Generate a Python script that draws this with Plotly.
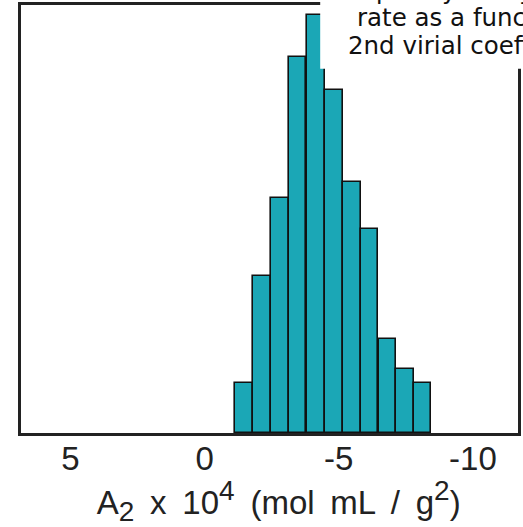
import plotly.graph_objects as go

# ---- data ----
bin_centers = [-1.46, -2.135, -2.80, -3.465, -4.14, -4.815, -5.48, -6.145, -6.815, -7.48, -8.12]
bin_width = 0.665
counts = [9.6, 30.2, 45.3, 72.4, 80.6, 66.1, 48.3, 39.3, 18.2, 12.4, 9.7]
tick_vals = [5, 0, -5, -10]
tick_text = ["5", "0", "-5", "-10"]
title_lines = ["Frequency of crystallization", "rate as a function of", "2nd virial coefficient"]

W, H = 523, 527
L, R, T, B = 21, 2, 4, 94
pw, ph = W - L - R, H - T - B

def px_x(x):
    return (x - L) / pw

def px_y(y):
    return (H - B - y) / ph

fig = go.Figure()
fig.add_trace(go.Bar(
    x=bin_centers, y=counts, width=[bin_width] * len(counts),
    marker=dict(color="#1ba7b6", line=dict(color="#111111", width=1.6)),
    showlegend=False,
))

sp = "&#8201;"
sub = '<sub><span style="font-size:28px">%s</span></sub>'
sup = '<sup><span style="font-size:28px">%s</span></sup>'
xtitle = ("&nbsp;&nbsp;A" + sub % "2" + " " + sp + "x " + sp + "10" + sup % "4" + " " + sp + "(mol " + sp
          + "mL " + sp + "/ " + sp + "g" + sup % "2" + ")")

fig.update_layout(
    width=W, height=H,
    margin=dict(l=L, r=R, t=T, b=B),
    paper_bgcolor="white", plot_bgcolor="white",
    bargap=0,
    xaxis=dict(
        range=[6.84, -11.68], tickmode="array", tickvals=tick_vals, ticktext=tick_text,
        showgrid=False, zeroline=False, ticks="",
        showline=True, linecolor="#222222", linewidth=2.5, mirror=True,
        tickfont=dict(family="Liberation Sans, Arial", size=33, color="#222222"),
        ticklabelstandoff=-5,
        title=dict(text=xtitle,
                   font=dict(family="Liberation Sans, Arial", size=33, color="#222222"),
                   standoff=11),
    ),
    yaxis=dict(
        range=[0, 82.5], showticklabels=False, showgrid=False, zeroline=False, ticks="",
        showline=True, linecolor="#222222", linewidth=2.5, mirror=True,
    ),
)

# white title box partly covering the plot (top right)
fig.add_shape(type="rect", xref="paper", yref="paper",
              x0=px_x(322), x1=px_x(540), y0=px_y(68), y1=px_y(-20),
              fillcolor="white", line=dict(width=0), layer="above")

line_x = [330, 357, 348]
line_y = [-11, 17, 45]
for txt, lx, ly in zip(title_lines, line_x, line_y):
    fig.add_annotation(text=txt, xref="paper", yref="paper", x=px_x(lx), y=px_y(ly),
                       xanchor="left", yanchor="middle", showarrow=False,
                       font=dict(family="DejaVu Sans", size=24.5, color="#111111"))

fig.write_html("out.html")
